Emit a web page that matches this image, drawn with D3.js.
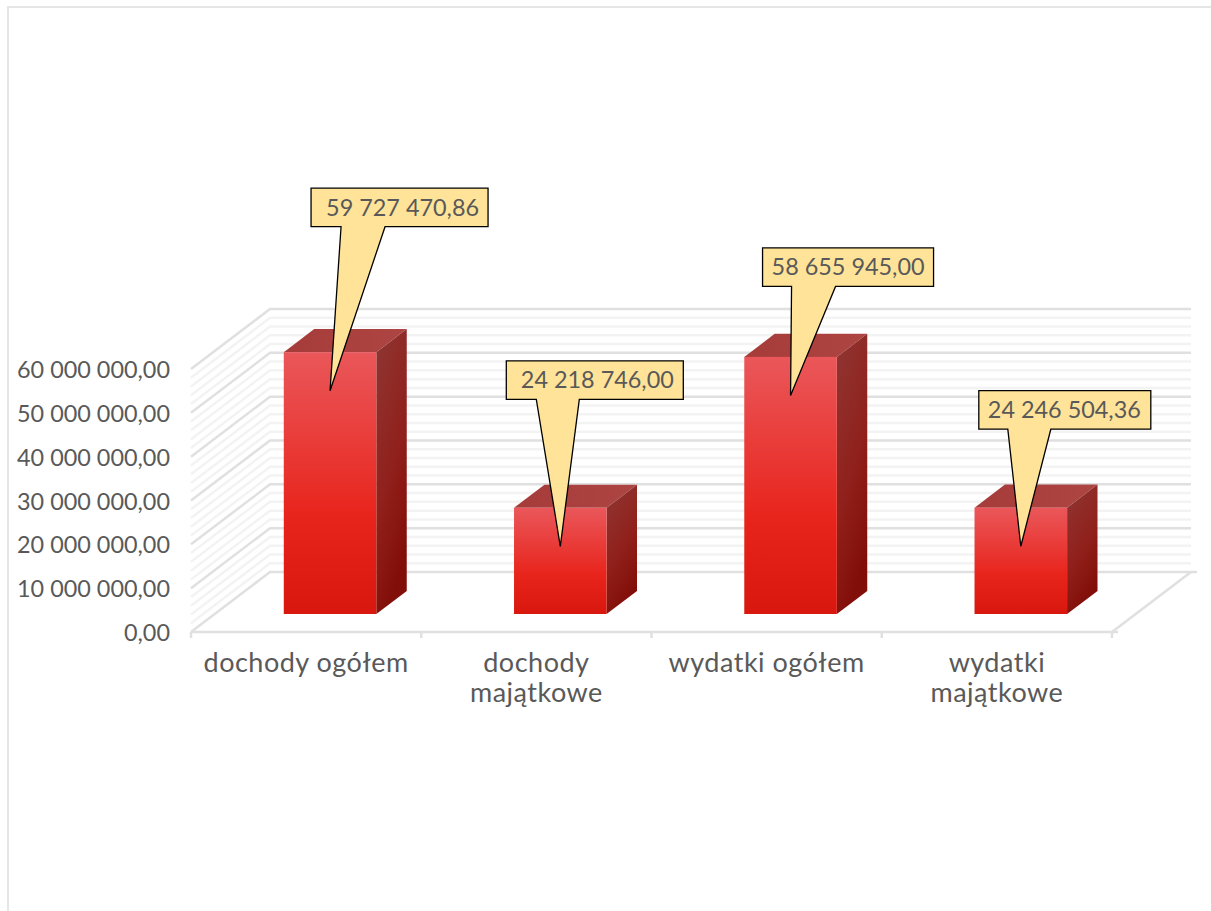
<!DOCTYPE html>
<html><head><meta charset="utf-8">
<script src="https://cdn.jsdelivr.net/npm/d3@7/dist/d3.min.js"></script>
<style>
html,body{margin:0;padding:0;background:#fff;overflow:hidden}
svg{display:block}
text{font-family:Lato,"Open Sans",sans-serif;fill:#595959}
</style></head><body>
<div id="chart"></div>
<script>
const categories = ["dochody ogółem","dochody majątkowe","wydatki ogółem","wydatki majątkowe"];
const values = [59727470.86,24218746.00,58655945.00,24246504.36];
const valueLabels = ["59 727 470,86","24 218 746,00","58 655 945,00","24 246 504,36"];
const yTicks = [0,10000000,20000000,30000000,40000000,50000000,60000000];
const minorStep = 2000000;

// layout
const W=1211,H=911;
const x0=191,x1=1112,yBase=632,yTop=369;
const depthX=79,depthY=60;
const barDepth=0.385, barFront=0.30, barGap=0.30, barW=0.402;
const fontSize=23.4, catFontSize=27, catSpacing=0.5;
// callout placement relative to the tip
const boxLeft=[-19,-54,-28,-42], boxWidth=[177,177,171,172], boxTop=[-202.5,-185.5,-147.5,-155.5];
const neckL=[30,30,29,29], neckR=[74,73,73,72], textDx=[3,2.5,0,-0.5];
const boxH=38.5, tipDrop=38.5;
const catY=40;

const svg=d3.select("#chart").append("svg").attr("width",W).attr("height",H);
const defs=svg.append("defs");
const gf=defs.append("linearGradient").attr("id","front").attr("x1",0).attr("y1",0).attr("x2",0).attr("y2",1);
[[0,"#ea575a"],[0.62,"#e8251d"],[1,"#d8170f"]].forEach(s=>gf.append("stop").attr("offset",s[0]).attr("stop-color",s[1]));
const gs=defs.append("linearGradient").attr("id","side").attr("x1",0).attr("y1",0).attr("x2",0.35).attr("y2",1);
[[0,"#8f3734"],[0.6,"#90201b"],[1,"#820e09"]].forEach(s=>gs.append("stop").attr("offset",s[0]).attr("stop-color",s[1]));
const gt=defs.append("linearGradient").attr("id","top").attr("x1",0).attr("y1",0).attr("x2",1).attr("y2",0);
[[0,"#a63c3a"],[1,"#ad4543"]].forEach(s=>gt.append("stop").attr("offset",s[0]).attr("stop-color",s[1]));

// frame
svg.append("path").attr("d",`M8,${H}V7H${W}`).attr("fill","none").attr("stroke","#e6e6e6").attr("stroke-width",2);

const y=d3.scaleLinear().domain([0,60000000]).range([yBase,yTop]);
const x=d3.scaleBand().domain(categories).range([x0,x1]);
const dx=t=>t*depthX, dy=t=>-t*depthY;

// gridlines on the left wall and back wall
const minor=d3.range(0,60000000+1,minorStep).filter(v=>v%10000000!==0);
const grid=svg.append("g").attr("fill","none");
const wall=v=>`M${x0},${y(v)}L${x0+depthX},${y(v)-depthY}H${x1+depthX}`;
const lineW=2.5, majorC="#e0e0e0", minorC="#f3f3f3";
grid.selectAll(".mi").data(minor).join("path").attr("d",wall).attr("stroke",minorC).attr("stroke-width",lineW);
grid.selectAll(".ma").data(yTicks.filter(v=>v>0)).join("path").attr("d",wall).attr("stroke",majorC).attr("stroke-width",lineW);

// floor
grid.append("path").attr("d",`M${x0},${yBase}L${x0+depthX},${yBase-depthY}H${x1+depthX+6}`).attr("stroke",majorC).attr("stroke-width",lineW);
grid.append("path").attr("d",`M${x1},${yBase}L${x1+depthX},${yBase-depthY}`).attr("stroke",majorC).attr("stroke-width",lineW);

// axes
const axB=svg.append("g").attr("transform",`translate(0,${yBase})`)
  .call(d3.axisBottom(x).tickSize(0).tickPadding(20));
axB.select(".domain").remove();
axB.selectAll(".tick line").remove();
axB.selectAll("text").attr("font-size",catFontSize).attr("letter-spacing",catSpacing).each(function(c){
    const t=d3.select(this);
    const words=c.split(" ");
    t.attr("dy",null).attr("y",catY).text(null);
    const probe=t.append("tspan").text(c);
    const tooWide=probe.node().getComputedTextLength()>x.bandwidth()-10;
    probe.remove();
    (tooWide?words:[c]).forEach((w,i)=>t.append("tspan").attr("x",0).attr("y",catY+i*30).text(w));
  });
const tickG=svg.append("g").attr("stroke",majorC).attr("stroke-width",lineW);
tickG.selectAll("line").data(d3.range(categories.length+1)).join("line")
  .attr("x1",i=>x0+i*x.bandwidth()).attr("x2",i=>x0+i*x.bandwidth()).attr("y1",yBase).attr("y2",yBase+6);
tickG.append("line").attr("x1",x0).attr("x2",x1+6).attr("y1",yBase).attr("y2",yBase);

const nf=d3.formatLocale({decimal:",",thousands:" ",grouping:[3],currency:["",""]}).format(",.2f");
const axL=svg.append("g").attr("transform",`translate(${x0},1)`)
  .call(d3.axisLeft(y).tickValues(yTicks).tickFormat(nf).tickSize(0).tickPadding(21));
axL.select(".domain").remove();
axL.selectAll("text").attr("font-size",fontSize);

// bars
const rows=categories.map((c,i)=>({c,i,v:values[i]}));
const bars=svg.append("g").selectAll("g").data(rows).join("g");
const bx=d=>x(d.c)+dx(barFront)+x.bandwidth()*barGap;
const bw=x.bandwidth()*barW;
const by0=yBase+dy(barFront);
const bTop=d=>by0-(yBase-y(d.v));
const ox=dx(barDepth), oy=dy(barDepth);
bars.append("path").attr("fill","url(#top)").attr("d",d=>`M${bx(d)},${bTop(d)}l${ox},${oy}h${bw}l${-ox},${-oy}Z`);
bars.append("path").attr("fill","url(#side)").attr("d",d=>`M${bx(d)+bw},${bTop(d)}l${ox},${oy}V${by0+oy}l${-ox},${-oy}Z`);
bars.append("rect").attr("fill","url(#front)").attr("x",bx).attr("y",bTop).attr("width",bw).attr("height",d=>by0-bTop(d));

// callouts
const call=svg.append("g").selectAll("g").data(rows).join("g");
const tipX=d=>bx(d)+bw/2, tipY=d=>bTop(d)+tipDrop;
call.append("path").attr("fill","#ffe398").attr("stroke","#000").attr("stroke-width",1.3)
 .attr("d",d=>{
   const l=tipX(d)+boxLeft[d.i], t=tipY(d)+boxTop[d.i], r=l+boxWidth[d.i], b=t+boxH;
   return `M${l},${t}H${r}V${b}H${l+neckR[d.i]}L${tipX(d)},${tipY(d)}L${l+neckL[d.i]},${b}H${l}Z`;
 });
call.append("text").attr("text-anchor","middle").attr("font-size",fontSize)
 .attr("x",d=>tipX(d)+boxLeft[d.i]+boxWidth[d.i]/2+textDx[d.i])
 .attr("y",d=>tipY(d)+boxTop[d.i]+boxH/2).attr("dy","0.35em")
 .text(d=>valueLabels[d.i]);
</script>
</body></html>
